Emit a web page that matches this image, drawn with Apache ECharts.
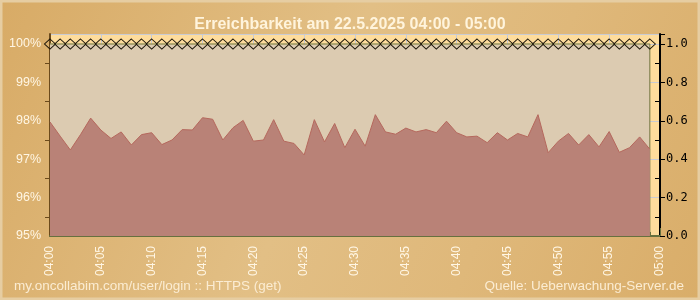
<!DOCTYPE html>
<html>
<head>
<meta charset="utf-8">
<script src="https://cdn.jsdelivr.net/npm/echarts@6/dist/echarts.min.js"></script>
<style>
  html, body { margin: 0; padding: 0; }
  #chart { width: 700px; height: 300px; }
</style>
</head>
<body>
<div id="chart"></div>
<script>
// minutes after 04:00, one sample per minute
var minutes = [];
for (var m = 0; m < 60; m++) { minutes.push(m); }

// Erreichbarkeit in % (always 100)
var availability = [
  100, 100, 100, 100, 100, 100, 100, 100, 100, 100,
  100, 100, 100, 100, 100, 100, 100, 100, 100, 100,
  100, 100, 100, 100, 100, 100, 100, 100, 100, 100,
  100, 100, 100, 100, 100, 100, 100, 100, 100, 100,
  100, 100, 100, 100, 100, 100, 100, 100, 100, 100,
  100, 100, 100, 100, 100, 100, 100, 100, 100, 100
];

// brown area
var brownValues = [
  97.97, 97.60, 97.24, 97.64, 98.07, 97.76, 97.54, 97.71, 97.37, 97.64,
  97.69, 97.38, 97.50, 97.77, 97.76, 98.08, 98.04, 97.50, 97.82, 98.01,
  97.47, 97.50, 98.03, 97.47, 97.41, 97.11, 98.03, 97.45, 97.93, 97.30,
  97.78, 97.34, 98.16, 97.71, 97.65, 97.81, 97.71, 97.77, 97.69, 97.99,
  97.69, 97.58, 97.60, 97.43, 97.69, 97.50, 97.67, 97.58, 98.16, 97.17,
  97.47, 97.67, 97.37, 97.64, 97.32, 97.72, 97.18, 97.30, 97.58, 97.26
];

var timeLabels = ['04:00', '04:05', '04:10', '04:15', '04:20', '04:25',
  '04:30', '04:35', '04:40', '04:45', '04:50', '04:55', '05:00'];

var titleText = 'Erreichbarkeit am 22.5.2025 04:00 - 05:00';
var footLeft = 'my.oncollabim.com/user/login :: HTTPS (get)';
var footRight = 'Quelle: Ueberwachung-Server.de';

function pairs(xs, ys) {
  return xs.map(function (x, i) { return [x, ys[i]]; });
}

var chart = echarts.init(document.getElementById('chart'));
var lastMin = minutes[minutes.length - 1];

var options = {
  animation: false,
  backgroundColor: {
    type: 'linear', x: 0, y: 0, x2: 1, y2: 1,
    colorStops: [
      { offset: 0, color: '#d8ab66' },
      { offset: 0.45, color: '#e2bf85' },
      { offset: 0.7, color: '#dfb87a' },
      { offset: 1, color: '#d9ad69' }
    ]
  },
  title: {
    text: titleText,
    left: 'center',
    top: 12,
    textStyle: { color: '#fff4dc', fontSize: 16, fontWeight: 'bold', fontFamily: 'Liberation Sans' }
  },
  graphic: [
    {
      type: 'rect', silent: true,
      shape: { x: 1, y: 1, width: 698, height: 298 },
      style: { fill: 'none', stroke: '#e6cda2', lineWidth: 3 }
    },
    {
      type: 'text', left: 14, top: 279,
      style: { text: footLeft, fill: '#fbecd2', fontSize: 13.5, fontFamily: 'Liberation Sans' }
    },
    {
      type: 'text', right: 16, top: 279,
      style: { text: footRight, fill: '#fbecd2', fontSize: 13.5, fontFamily: 'Liberation Sans' }
    }
  ],
  grid: {
    left: 50, right: 40, top: 34, bottom: 64,
    show: true, backgroundColor: '#fedc9c', borderWidth: 0
  },
  xAxis: {
    type: 'value',
    min: 0, max: 60, interval: 5,
    axisLine: { lineStyle: { color: '#66703f', width: 2 } },
    axisTick: { inside: true, length: 8, lineStyle: { color: '#66703f' } },
    minorTick: { show: true, splitNumber: 5, length: 4, lineStyle: { color: '#66703f' } },
    splitLine: { show: true, lineStyle: { color: '#c9cbd3', width: 1 } },
    axisLabel: {
      rotate: 90, margin: 10,
      color: '#fff6e4', fontSize: 12, fontFamily: 'Liberation Sans',
      formatter: function (v) { return timeLabels[v / 5]; }
    }
  },
  yAxis: [
    {
      type: 'value',
      min: 95, max: 100.26, interval: 1,
      axisLine: { show: true, lineStyle: { color: '#6b4a1c', width: 2 } },
      axisTick: { show: false },
      minorTick: { show: true, splitNumber: 2, length: 5, lineStyle: { color: '#6b4a1c' } },
      splitLine: { show: true, lineStyle: { color: '#c9cbd3', width: 1 } },
      axisLabel: {
        margin: 9, color: '#fff6e4', fontSize: 12.5, fontFamily: 'Liberation Sans',
        showMaxLabel: false,
        formatter: function (v) { return Math.abs(v - Math.round(v)) < 1e-6 ? Math.round(v) + '%' : ''; }
      }
    },
    {
      type: 'value',
      min: 0, max: 1.052, interval: 0.2,
      position: 'right',
      axisLine: { show: true, lineStyle: { color: '#000000', width: 2 } },
      axisTick: { show: true, length: 5, lineStyle: { color: '#000000' } },
      minorTick: { show: true, splitNumber: 2, length: -5, lineStyle: { color: '#000000' } },
      splitLine: { show: false },
      axisLabel: {
        margin: 6, color: '#000000', fontSize: 12, fontFamily: 'DejaVu Sans Mono',
        showMaxLabel: false,
        formatter: function (v) { return v <= 1.0001 ? v.toFixed(1) : ''; }
      }
    }
  ],
  series: [
    {
      name: 'Erreichbarkeit',
      type: 'line',
      data: pairs(minutes, availability),
      symbol: 'none',
      lineStyle: { color: '#9b9660', width: 1.5 },
      areaStyle: { color: '#dccbb1', opacity: 1 },
      z: 2
    },
    {
      name: 'edge',
      type: 'line',
      data: [[lastMin, 95], [lastMin, availability[availability.length - 1]]],
      symbol: 'none',
      lineStyle: { color: '#6f7440', width: 1 },
      z: 3
    },
    {
      name: 'Wert',
      type: 'line',
      data: pairs(minutes, brownValues),
      symbol: 'none',
      lineStyle: { color: '#b5685d', width: 1 },
      areaStyle: { color: '#b98277', opacity: 1 },
      z: 4
    },
    {
      name: 'marker',
      type: 'line',
      data: pairs(minutes, availability),
      symbol: 'diamond',
      symbolSize: [11, 10],
      showAllSymbol: true,
      itemStyle: { color: 'rgba(0,0,0,0)', borderColor: '#1a1408', borderWidth: 1 },
      lineStyle: { width: 0, opacity: 0 },
      z: 5
    }
  ]
};
chart.setOption(options);
</script>
</body>
</html>
